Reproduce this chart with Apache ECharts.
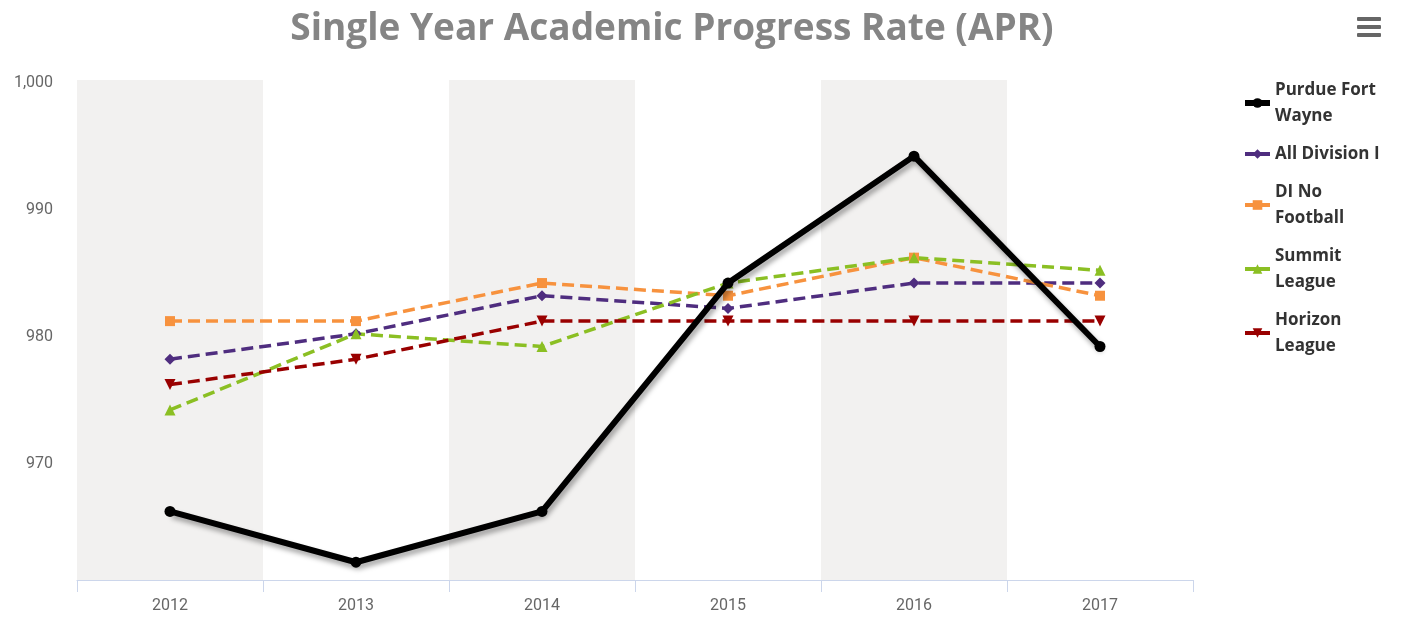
<!DOCTYPE html>
<html>
<head>
<meta charset="utf-8">
<script src="https://cdn.jsdelivr.net/npm/echarts@6/dist/echarts.min.js"></script>
<style>
  html, body { margin: 0; padding: 0; background: #fff; }
  #aprChart { width: 1401px; height: 618px; }
</style>
</head>
<body>
<div id="aprChart"></div>
<script>
// data
const years = ["2012", "2013", "2014", "2015", "2016", "2017"];
const seriesNames = ["Purdue Fort Wayne", "All Division I", "DI No Football", "Summit League", "Horizon League"];
const legendLabels = ["Purdue Fort\nWayne", "All Division I", "DI No\nFootball", "Summit\nLeague", "Horizon\nLeague"];
const purdueFortWayne = [966, 962, 966, 984, 994, 979];
const allDivisionI = [978, 980, 983, 982, 984, 984];
const diNoFootball = [981, 981, 984, 983, 986, 983];
const summitLeague = [974, 980, 979, 984, 986, 985];
const horizonLeague = [976, 978, 981, 981, 981, 981];

const colors = ["#000000", "#4f2d7f", "#f7923e", "#8bbf23", "#990000"];
const symbols = ["circle", "diamond", "rect", "triangle", "path://M0,0 L10,0 L5,10 Z"];

let chart = echarts.init(document.getElementById("aprChart"));

function dashedLine(idx, data) {
  return {
    name: seriesNames[idx],
    type: "line",
    data: data,
    color: colors[idx],
    symbol: symbols[idx],
    symbolSize: idx == 2 ? 10 : 11,
    showSymbol: true,
    z: 2,
    lineStyle: { width: 3.5, type: [12, 6], color: colors[idx] },
    itemStyle: { color: colors[idx] },
  };
}

let option = {
  animation: false,
  title: {
    text: "Single Year Academic Progress Rate (APR)",
    left: 667,
    top: 6,
    textAlign: "center",
    textStyle: {
      color: "#858585",
      fontSize: 37,
      fontWeight: "bold",
      fontFamily: "Open Sans",
    },
  },
  legend: {
    orient: "vertical",
    left: 1237,
    top: 72,
    itemGap: 12,
    itemWidth: 25,
    itemHeight: 12,
    data: seriesNames.map((n, i) => ({
      name: n,
      lineStyle: { width: i == 0 ? 6 : 4, type: "solid" },
    })),
    formatter: (name) => legendLabels[seriesNames.indexOf(name)],
    textStyle: {
      color: "#333333",
      fontSize: 17,
      fontWeight: "bold",
      fontFamily: "Open Sans",
      lineHeight: 26,
    },
  },
  graphic: [
    { type: "rect", left: 1357, top: 17, shape: { width: 24, height: 4, r: 1 }, style: { fill: "#666" } },
    { type: "rect", left: 1357, top: 25, shape: { width: 24, height: 4, r: 1 }, style: { fill: "#666" } },
    { type: "rect", left: 1357, top: 33, shape: { width: 24, height: 4, r: 1 }, style: { fill: "#666" } },
  ],
  grid: {
    left: 77,
    right: 208,
    top: 80,
    bottom: 38,
  },
  xAxis: {
    type: "category",
    data: years,
    boundaryGap: true,
    axisLine: { lineStyle: { color: "#ccd6eb", width: 1 } },
    axisTick: { show: true, length: 12, lineStyle: { color: "#ccd6eb" } },
    axisLabel: { color: "#666666", fontSize: 16, fontFamily: "Roboto", margin: 18 },
    splitLine: { show: false },
    splitArea: { show: true, areaStyle: { color: ["#f2f1f0", "#ffffff"] } },
  },
  yAxis: {
    type: "value",
    min: 960.6,
    max: 1000,
    splitNumber: 4,
    axisLine: { show: false },
    axisTick: { show: false },
    axisLabel: {
      color: "#666666",
      fontSize: 16,
      fontFamily: "Roboto",
      margin: 24,
      verticalAlign: "top",
      lineHeight: 6,
      formatter: (v) => (Math.abs(v % 10) > 0.01 ? "" : v.toLocaleString("en-US")),
    },
    splitLine: { lineStyle: { color: "#cfcfcf", width: 1 } },
  },
  series: [
    {
      name: seriesNames[0],
      type: "line",
      data: purdueFortWayne,
      color: colors[0],
      symbol: symbols[0],
      symbolSize: 11,
      z: 5,
      lineStyle: {
        width: 6,
        color: colors[0],
        shadowColor: "rgba(0,0,0,0.35)",
        shadowBlur: 5,
        shadowOffsetX: 2,
        shadowOffsetY: 4,
      },
      itemStyle: { color: colors[0] },
    },
    dashedLine(1, allDivisionI),
    dashedLine(2, diNoFootball),
    dashedLine(3, summitLeague),
    dashedLine(4, horizonLeague),
  ],
};

chart.setOption(option);
window.addEventListener("resize", () => chart.resize(), true);
</script>
</body>
</html>
